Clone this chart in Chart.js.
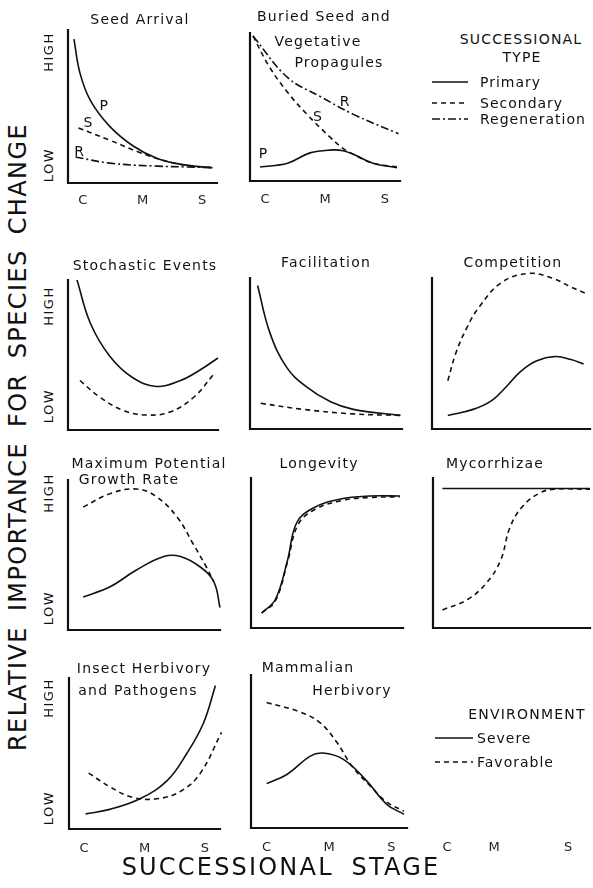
<!DOCTYPE html>
<html lang="en">
<head>
<meta charset="UTF-8">
<title>Relative importance for species change</title>
<script src="https://cdn.jsdelivr.net/npm/chart.js"></script>
<style>
  body { margin: 0; background: #fff; }
  #fig { position: relative; width: 593px; height: 888px; overflow: hidden; font-family: "DejaVu Sans", sans-serif; color: #111; }
  #fig canvas { position: absolute; }
  .t { position: absolute; white-space: nowrap; font-size: 14px; letter-spacing: 1.2px; line-height: 1; transform: translate(-50%, -50%); }
  .l { position: absolute; white-space: nowrap; font-size: 14px; letter-spacing: 1px; line-height: 1; transform: translateY(-50%); }
  .v { position: absolute; white-space: nowrap; font-size: 13px; letter-spacing: 1.5px; line-height: 1; transform: translate(-50%, -50%) rotate(-90deg); }
  .big { position: absolute; white-space: nowrap; font-size: 24px; letter-spacing: 2.2px; word-spacing: 8px; line-height: 1; }
  .big.side { letter-spacing: 1.4px; word-spacing: 6px; }
  svg { position: absolute; overflow: visible; }
</style>
</head>
<body>
<div id="fig"></div>
<script>
// successional stage ticks
const stageTicks = [0.1, 0.5, 0.9];
const stageLabels = ['C', 'M', 'S'];
const spareTicks = [0.09, 0.39, 0.86];

// [stage, importance], 0 = low, 1 = high
const seedPrimary = [[0.04,0.94],[0.08,0.72],[0.15,0.54],[0.28,0.37],[0.44,0.24],[0.6,0.16],[0.77,0.12],[0.97,0.10]];
const seedSecondary = [[0.07,0.36],[0.28,0.28],[0.48,0.2],[0.65,0.145],[0.8,0.115],[0.97,0.10]];
const seedRegen = [[0.05,0.17],[0.28,0.13],[0.6,0.11],[0.8,0.105],[0.97,0.10]];

const buriedPrimary = [[0.067,0.095],[0.25,0.12],[0.4,0.19],[0.55,0.21],[0.62,0.205],[0.69,0.18],[0.82,0.12],[0.98,0.09]];
const buriedSecondary = [[0.02,0.98],[0.13,0.77],[0.25,0.6],[0.38,0.45],[0.53,0.3],[0.62,0.22],[0.69,0.18],[0.82,0.12],[0.98,0.095]];
const buriedRegen = [[0.02,0.98],[0.25,0.70],[0.47,0.57],[0.69,0.45],[0.99,0.32]];

const stochSevere = [[0.06,1.0],[0.15,0.71],[0.28,0.49],[0.43,0.35],[0.59,0.29],[0.75,0.33],[0.88,0.40],[1.0,0.48]];
const stochFavorable = [[0.08,0.33],[0.21,0.22],[0.37,0.13],[0.52,0.10],[0.68,0.12],[0.84,0.22],[0.97,0.37]];

const facilSevere = [[0.05,0.95],[0.13,0.64],[0.24,0.41],[0.37,0.28],[0.53,0.18],[0.68,0.13],[0.99,0.09]];
const facilFavorable = [[0.07,0.17],[0.35,0.13],[0.68,0.10],[0.99,0.09]];

const compSevere = [[0.1,0.09],[0.26,0.13],[0.38,0.19],[0.47,0.28],[0.56,0.38],[0.66,0.45],[0.78,0.48],[0.88,0.46],[0.96,0.43]];
const compFavorable = [[0.1,0.32],[0.15,0.5],[0.22,0.67],[0.3,0.81],[0.44,0.97],[0.61,1.03],[0.76,1.0],[0.88,0.94],[0.99,0.89]];

const growthSevere = [[0.1,0.22],[0.28,0.29],[0.45,0.4],[0.63,0.49],[0.74,0.49],[0.87,0.42],[0.96,0.32],[1.0,0.15]];
const growthFavorable = [[0.1,0.82],[0.28,0.91],[0.45,0.94],[0.58,0.89],[0.72,0.75],[0.82,0.58],[0.91,0.42],[0.96,0.32]];

const longSevere = [[0.07,0.1],[0.16,0.19],[0.24,0.45],[0.3,0.7],[0.41,0.8],[0.59,0.86],[0.78,0.88],[0.98,0.88]];
const longFavorable = [[0.07,0.1],[0.16,0.18],[0.24,0.44],[0.31,0.69],[0.42,0.79],[0.6,0.85],[0.78,0.87],[0.98,0.875]];

const mycoSevere = [[0.06,0.93],[1.0,0.93]];
const mycoFavorable = [[0.06,0.12],[0.22,0.19],[0.34,0.3],[0.43,0.45],[0.49,0.67],[0.57,0.81],[0.68,0.9],[0.77,0.925],[1.0,0.925]];

const insectSevere = [[0.11,0.1],[0.27,0.13],[0.47,0.2],[0.65,0.32],[0.78,0.5],[0.89,0.7],[0.97,0.95]];
const insectFavorable = [[0.13,0.37],[0.27,0.28],[0.42,0.21],[0.58,0.2],[0.74,0.25],[0.87,0.37],[1.01,0.64]];

const mammalSevere = [[0.1,0.29],[0.23,0.35],[0.38,0.47],[0.46,0.49],[0.59,0.45],[0.74,0.31],[0.87,0.155],[0.98,0.09]];
const mammalFavorable = [[0.1,0.82],[0.31,0.76],[0.44,0.69],[0.55,0.56],[0.65,0.4],[0.76,0.28],[0.87,0.17],[0.98,0.11]];

// letters written next to the curves in the first row
const seedTags = [['P',0.24,0.5],['S',0.134,0.39],['R',0.074,0.2]];
const buriedTags = [['R',0.63,0.53],['S',0.45,0.43],['P',0.087,0.18]];

const INK = '#111';
const SOLID = [];
const DASH = [5, 4];
const DASHDOT = [8, 3, 2, 3];

// L-shaped axes
const framePlugin = {
  id: 'frame',
  beforeDatasetsDraw(chart, args, opts) {
    if (!opts.show) return;
    const a = chart.chartArea, ctx = chart.ctx;
    ctx.save();
    ctx.strokeStyle = INK;
    ctx.lineWidth = 2.2;
    ctx.lineCap = 'square';
    ctx.beginPath();
    ctx.moveTo(a.left, a.top);
    ctx.lineTo(a.left, a.bottom);
    ctx.lineTo(a.right, a.bottom);
    ctx.stroke();
    ctx.restore();
  }
};

const tagPlugin = {
  id: 'tags',
  afterDatasetsDraw(chart, args, opts) {
    const ctx = chart.ctx;
    ctx.save();
    ctx.fillStyle = INK;
    ctx.font = '14px "DejaVu Sans"';
    ctx.textAlign = 'center';
    ctx.textBaseline = 'middle';
    (opts.items || []).forEach(([txt, x, y]) => {
      ctx.fillText(txt, chart.scales.x.getPixelForValue(x), chart.scales.y.getPixelForValue(y));
    });
    ctx.restore();
  }
};
Chart.register(framePlugin, tagPlugin);

const fig = document.getElementById('fig');

function line(points, dash) {
  return {
    data: points.map(([x, y]) => ({ x, y })),
    borderColor: INK,
    borderWidth: 1.6,
    borderDash: dash,
    pointRadius: 0,
    tension: 0.4,
    fill: false,
    clip: false
  };
}

// box = [axis left, axis top, axis right, axis bottom]
function panel(box, series, opt = {}) {
  const padL = 10, padR = 10, padT = 14, band = 32;
  const w = box[2] - box[0] + padL + padR;
  const h = box[3] - box[1] + padT + band;
  const c = document.createElement('canvas');
  c.width = w; c.height = h;
  c.style.left = (box[0] - padL) + 'px';
  c.style.top = (box[1] - padT) + 'px';
  c.style.width = w + 'px'; c.style.height = h + 'px';
  fig.appendChild(c);
  const ticks = opt.ticks || [];
  new Chart(c, {
    type: 'line',
    data: { datasets: series },
    options: {
      responsive: false,
      animation: false,
      events: [],
      layout: { padding: { left: padL, right: padR, top: padT, bottom: 0 } },
      plugins: {
        legend: { display: false },
        tooltip: { enabled: false },
        frame: { show: opt.frame !== false },
        tags: { items: opt.tags || [] }
      },
      scales: {
        x: {
          type: 'linear', min: 0, max: 1,
          afterFit: s => { s.height = band; },
          afterBuildTicks: s => { s.ticks = ticks.map(v => ({ value: v })); },
          ticks: {
            autoSkip: false, maxRotation: 0,
            padding: opt.tickPad || 9,
            color: '#222',
            font: { family: 'DejaVu Sans', size: 13 },
            callback: (v, i) => stageLabels[i]
          },
          grid: { display: false, drawTicks: false },
          border: { display: false }
        },
        y: { display: false, min: 0, max: 1 }
      }
    }
  });
}

panel([68, 30, 217, 183], [line(seedPrimary, SOLID), line(seedSecondary, DASH), line(seedRegen, DASHDOT)], { ticks: stageTicks, tags: seedTags, tickPad: 10 });
panel([250, 33, 400, 181], [line(buriedPrimary, SOLID), line(buriedSecondary, DASH), line(buriedRegen, DASHDOT)], { ticks: stageTicks, tags: buriedTags, tickPad: 11 });

panel([68, 280, 218, 430], [line(stochSevere, SOLID), line(stochFavorable, DASH)]);
panel([250, 278, 402, 429], [line(facilSevere, SOLID), line(facilFavorable, DASH)]);
panel([432, 278, 590, 429], [line(compSevere, SOLID), line(compFavorable, DASH)]);

panel([68, 480, 220, 630], [line(growthSevere, SOLID), line(growthFavorable, DASH)]);
panel([251, 478, 403, 628], [line(longSevere, SOLID), line(longFavorable, DASH)]);
panel([433, 478, 590, 628], [line(mycoSevere, SOLID), line(mycoFavorable, DASH)]);

panel([69, 678, 220, 829], [line(insectSevere, SOLID), line(insectFavorable, DASH)], { ticks: stageTicks, tickPad: 12 });
panel([251, 675, 407, 828], [line(mammalSevere, SOLID), line(mammalFavorable, DASH)], { ticks: stageTicks, tickPad: 12 });
panel([433, 675, 590, 828], [], { ticks: spareTicks, tickPad: 12, frame: false });

// text
function text(cls, str, x, y, extra) {
  const d = document.createElement('div');
  d.className = cls;
  d.textContent = str;
  d.style.left = x + 'px';
  d.style.top = y + 'px';
  if (extra) Object.assign(d.style, extra);
  fig.appendChild(d);
  return d;
}

[
  ['Seed Arrival', 140, 19],
  ['Buried Seed and', 324, 16], ['Vegetative', 318, 41], ['Propagules', 339, 62],
  ['Stochastic Events', 145, 265], ['Facilitation', 326, 262], ['Competition', 513, 262],
  ['Maximum Potential', 149, 463], ['Growth Rate', 129, 479],
  ['Longevity', 319, 463], ['Mycorrhizae', 495, 463],
  ['Insect Herbivory', 144, 668], ['and Pathogens', 138, 690],
  ['Mammalian', 308, 667], ['Herbivory', 352, 690]
].forEach(([s, x, y]) => text('t', s, x, y));

[[52, 165], [306, 406], [493, 608], [698, 808]].forEach(([hi, lo]) => {
  text('v', 'HIGH', 48, hi);
  text('v', 'LOW', 48, lo);
});

// legends
text('t', 'SUCCESSIONAL', 521, 39);
text('t', 'TYPE', 522, 57);
text('t', 'ENVIRONMENT', 527, 714);

function sample(x1, x2, y, dash) {
  const ns = 'http://www.w3.org/2000/svg';
  const s = document.createElementNS(ns, 'svg');
  s.setAttribute('width', x2 - x1);
  s.setAttribute('height', 4);
  s.style.left = x1 + 'px';
  s.style.top = (y - 2) + 'px';
  const l = document.createElementNS(ns, 'line');
  l.setAttribute('x1', 0); l.setAttribute('x2', x2 - x1);
  l.setAttribute('y1', 2); l.setAttribute('y2', 2);
  l.setAttribute('stroke', INK);
  l.setAttribute('stroke-width', 1.6);
  if (dash.length) l.setAttribute('stroke-dasharray', dash.join(' '));
  s.appendChild(l);
  fig.appendChild(s);
}

[['Primary', 82, SOLID], ['Secondary', 103, DASH], ['Regeneration', 119, DASHDOT]].forEach(([s, y, d]) => {
  sample(432, 468, y, d);
  text('l', s, 480, y);
});
[['Severe', 738, SOLID], ['Favorable', 762, DASH]].forEach(([s, y, d]) => {
  sample(435, 473, y, d);
  text('l', s, 477, y);
});

const yl = text('big side', 'RELATIVE IMPORTANCE FOR SPECIES CHANGE', 18, 437);
yl.style.transform = 'translate(-50%, -50%) rotate(-90deg)';
const xl = text('big', 'SUCCESSIONAL STAGE', 281, 867);
xl.style.transform = 'translate(-50%, -50%)';
</script>
</body>
</html>
